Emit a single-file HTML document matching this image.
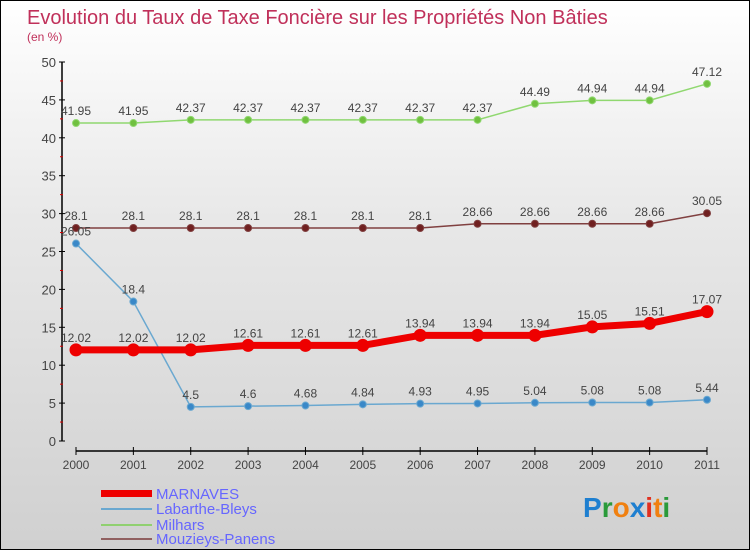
<!DOCTYPE html>
<html><head><meta charset="utf-8"><style>
body{margin:0}
#c{width:750px;height:550px;position:relative;box-sizing:border-box;border:1px solid #000;background:linear-gradient(#fff 0%,#e8e8e8 40%,#d0d0d0 100%);font-family:"Liberation Sans",sans-serif;overflow:hidden}
text{font-family:"Liberation Sans",sans-serif}
</style></head><body>
<div id="c">
<svg id="s" width="750" height="550">
<text x="26" y="23" font-size="20" fill="#c0305a">Evolution du Taux de Taxe Foncière sur les Propriétés Non Bâties</text>
<text x="26" y="40" font-size="12" fill="#c0305a">(en %)</text>
<g id="axes"></g><g id="series"></g>
<g>
<rect x="100" y="489" width="51" height="7" fill="#e00"/>
<text x="155" y="498" font-size="15" fill="#66f">MARNAVES</text>
<rect x="100" y="507" width="51" height="2" fill="#6aa8d0"/>
<text x="155" y="513" font-size="15" fill="#66f">Labarthe-Bleys</text>
<rect x="100" y="523" width="51" height="2" fill="#90d070"/>
<text x="155" y="529" font-size="15" fill="#66f">Milhars</text>
<rect x="100" y="537" width="51" height="2" fill="#906060"/>
<text x="155" y="543" font-size="15" fill="#66f">Mouzieys-Panens</text>
</g>
<g font-size="28" font-weight="bold">
<text x="582" y="516"><tspan fill="#1e7fd0">P</tspan><tspan fill="#2a9a3a">r</tspan><tspan fill="#f08010">o</tspan><tspan fill="#1e7fd0">x</tspan><tspan fill="#e03020">i</tspan><tspan fill="#f08010">t</tspan><tspan fill="#2a9a3a">i</tspan></text>
</g>
</svg>
</div>
<script>
const years=["2000","2001","2002","2003","2004","2005","2006","2007","2008","2009","2010","2011"];
const yTicks=[0,5,10,15,20,25,30,35,40,45,50];
const marnaves=[12.02,12.02,12.02,12.61,12.61,12.61,13.94,13.94,13.94,15.05,15.51,17.07];
const labarthe=[26.05,18.4,4.5,4.6,4.68,4.84,4.93,4.95,5.04,5.08,5.08,5.44];
const milhars=[41.95,41.95,42.37,42.37,42.37,42.37,42.37,42.37,44.49,44.94,44.94,47.12];
const mouzieys=[28.1,28.1,28.1,28.1,28.1,28.1,28.1,28.66,28.66,28.66,28.66,30.05];
const NS="http://www.w3.org/2000/svg";
const X=i=>75+i*(706-75)/11;
const Y=v=>440-v*(440-61)/50;
function mk(tag,at,parent){const e=document.createElementNS(NS,tag);for(const k in at)e.setAttribute(k,at[k]);parent.appendChild(e);return e;}
const ax=document.getElementById('axes');
mk('line',{x1:61,y1:61,x2:61,y2:440,stroke:'#000','stroke-width':1.5},ax);
mk('line',{x1:75,y1:450,x2:706,y2:450,stroke:'#000','stroke-width':1.5},ax);
yTicks.forEach((t,i)=>{
 mk('line',{x1:58,y1:Y(t),x2:64,y2:Y(t),stroke:'#000'},ax);
 if(i<yTicks.length-1)mk('line',{x1:59,y1:Y(t+2.5),x2:62,y2:Y(t+2.5),stroke:'#d00'},ax);
 const tx=mk('text',{x:55,y:Y(t)+5,'text-anchor':'end','font-size':13,fill:'#444'},ax);tx.textContent=t;
 
 
});
years.forEach((y,i)=>{
 mk('line',{x1:X(i),y1:446,x2:X(i),y2:454,stroke:'#000'},ax);
 const tx=mk('text',{x:X(i),y:468,'text-anchor':'middle','font-size':12,fill:'#444'},ax);tx.textContent=y;
 
 
});
const sg=document.getElementById('series');
function series(data,name,color,dot,w,r){
 const g=mk('g',{},sg);
 
 
 mk('polyline',{points:data.map((v,i)=>X(i)+','+Y(v)).join(' '),fill:'none',stroke:color,'stroke-width':w},g);
 data.forEach((v,i)=>{
  const c=mk('circle',{cx:X(i),cy:Y(v),r:r,fill:dot,stroke:color,'stroke-width':1},g);
  
  
  const t=mk('text',{x:X(i),y:Y(v)-8,'text-anchor':'middle','font-size':12,fill:'#444'},g);t.textContent=v;
  
  
 });
}
series(mouzieys,'mouzieys','#804040','#702020',1.5,3.5);
series(milhars,'milhars','#90d870','#70c040',1.5,3.5);
series(labarthe,'labarthe','#6aa8d0','#3a88c8',1.5,3.5);
series(marnaves,'marnaves','#ee0000','#ee0000',7,6);
</script>
</body></html>
